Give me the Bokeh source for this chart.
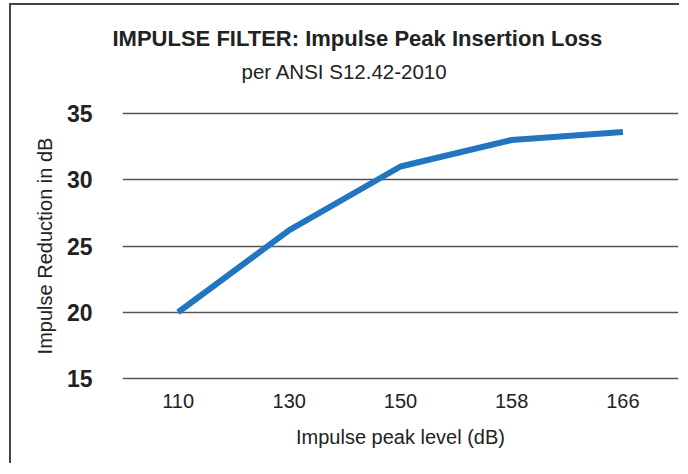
from bokeh.plotting import figure
from bokeh.models import Title, FixedTicker, InlineStyleSheet
from bokeh.embed import file_html
from bokeh.resources import INLINE

levels = ["110", "130", "150", "158", "166"]
reduction = [20.0, 26.2, 31.0, 33.0, 33.6]
y_ticks = [15, 20, 25, 30, 35]
title_text = "IMPULSE FILTER: Impulse Peak Insertion Loss"
subtitle_text = "per ANSI S12.42-2010"

FONT = "Liberation Sans"

p = figure(x_range=levels, y_range=(14.85, 35.15), width=670, height=460,
           output_backend="svg", toolbar_location=None, title=None,
           min_border_left=111, min_border_right=3, min_border_top=106,
           min_border_bottom=85)

p.stylesheets = [InlineStyleSheet(css=":host { border-left: 2px solid #444; border-top: 2px solid #444; margin-left: 9px; margin-top: 3px; }")]

spacer = Title(text=" ", text_font=FONT, text_font_size="2px", standoff=25)
sub = Title(text=subtitle_text, align="left", offset=119, text_font=FONT,
            text_font_size="20.5px", text_font_style="normal", text_color="#222",
            standoff=0)
main = Title(text=title_text, align="left", offset=-10, text_font=FONT,
             text_font_size="22px", text_font_style="bold", text_color="#222",
             standoff=14)
p.add_layout(spacer, "above")
p.add_layout(sub, "above")
p.add_layout(main, "above")

p.line(x=levels, y=reduction, line_color="#2176bf", line_width=6)

p.outline_line_color = None
p.xgrid.grid_line_color = None
p.ygrid.grid_line_color = "#555555"
p.ygrid.grid_line_width = 1.5
p.yaxis.ticker = FixedTicker(ticks=y_ticks)

for ax in (p.xaxis, p.yaxis):
    ax.axis_line_color = None
    ax.major_tick_line_color = None
    ax.minor_tick_line_color = None

p.yaxis.major_label_text_font = FONT
p.yaxis.major_label_text_font_size = "23px"
p.yaxis.major_label_text_font_style = "bold"
p.yaxis.major_label_text_color = "#222"
p.yaxis.major_label_standoff = 24
p.yaxis.axis_label = "Impulse Reduction in dB"
p.yaxis.axis_label_text_font = FONT
p.yaxis.axis_label_text_font_size = "20px"
p.yaxis.axis_label_text_font_style = "normal"
p.yaxis.axis_label_text_color = "#222"
p.yaxis.axis_label_standoff = 8

p.xaxis.major_label_text_font = FONT
p.xaxis.major_label_text_font_size = "20px"
p.xaxis.major_label_text_color = "#222"
p.xaxis.major_label_standoff = 7
p.xaxis.axis_label = "Impulse peak level (dB)"
p.xaxis.axis_label_text_font = FONT
p.xaxis.axis_label_text_font_size = "20px"
p.xaxis.axis_label_text_font_style = "normal"
p.xaxis.axis_label_text_color = "#222"
p.xaxis.axis_label_standoff = 15

open("out.html", "w").write(file_html(p, INLINE))
